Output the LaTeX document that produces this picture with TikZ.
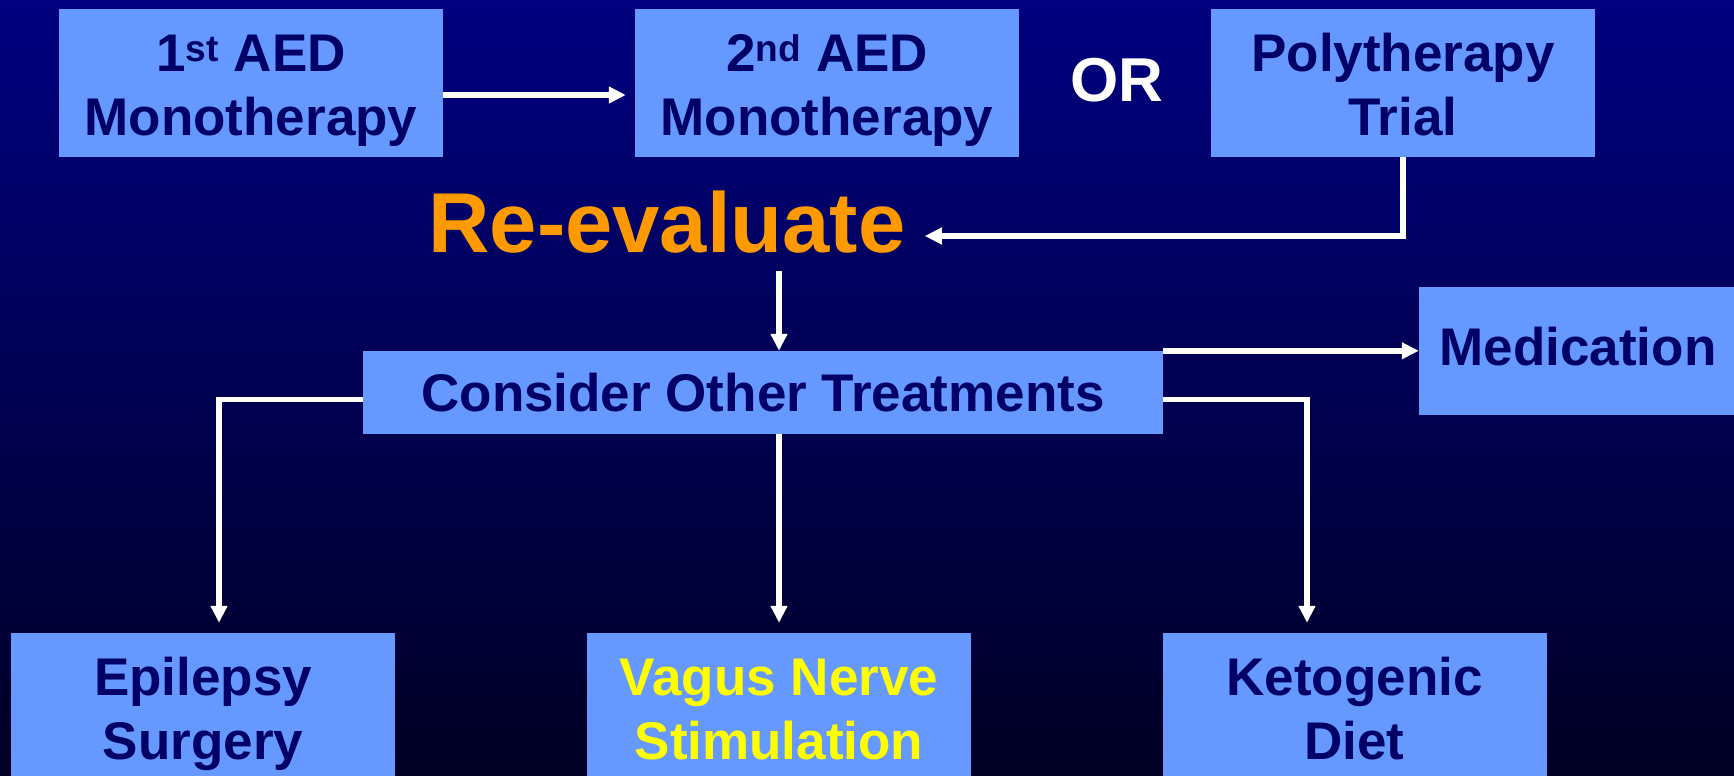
\documentclass[tikz,border=0pt]{standalone}
\usepackage{fontspec}
\setmainfont{Liberation Sans}
\usetikzlibrary{arrows.meta,calc}
\definecolor{boxblue}{HTML}{6699FF}
\definecolor{txtnavy}{HTML}{000066}
\definecolor{bgtop}{RGB}{0,0,128}
\definecolor{bgbot}{RGB}{0,0,36}
\definecolor{reorange}{HTML}{FF9900}
\definecolor{vnsyellow}{HTML}{FFFF00}
\begin{document}
\begin{tikzpicture}[x=1pt,y=-1pt,
  twobox/.style={fill=boxblue,draw=none,inner sep=0pt,minimum width=384pt,minimum height=148pt,
    text height=104pt,text depth=0pt,align=center,text=txtnavy,
    font=\bfseries\fontsize{53}{64}\selectfont},
  onebox/.style={fill=boxblue,draw=none,inner sep=0pt,text=txtnavy,
    font=\bfseries\fontsize{53}{64}\selectfont},
  conn/.style={draw=white,line width=5.5pt,-{Triangle[length=17pt,width=16pt]}},
  plainline/.style={draw=white,line width=5.5pt}]
\clip (0,0) rectangle (1734,776);
\shade[top color=bgtop,bottom color=bgbot] (0,0) rectangle (1734,776);
% nodes
\node[twobox] (b1) at (251,83) {1\textsuperscript{st} AED\\Monotherapy};
\node[twobox] (b2) at (827,83) {2\textsuperscript{nd} AED\\Monotherapy};
\node[twobox] (b3) at (1403,83) {Polytherapy\\Trial};
\node[text=white,inner sep=0pt,font=\bfseries\fontsize{62}{70}\selectfont] (or) at (1117,80) {OR};
\node[text=reorange,inner sep=0pt,text height=61pt,text depth=0pt,font=\bfseries\fontsize{85}{96}\selectfont] (re) at (667,221.5) {Re-evaluate};
\node[onebox,minimum width=800pt,minimum height=83pt,text height=38pt,text depth=0pt] (ct) at (763,392.5) {Consider Other Treatments};
\node[onebox,minimum width=318pt,minimum height=128pt,text height=38pt,text depth=10pt] (med) at (1578,351) {Medication};
\node[twobox] (es) at (203,707) {Epilepsy\\Surgery};
\node[twobox,text=vnsyellow] (vns) at (779,707) {Vagus Nerve\\Stimulation};
\node[twobox] (kd) at (1354.5,707) {Ketogenic\\Diet};
% connectors
\draw[conn] ($(b1.east)+(0,12)$) -- ($(b2.west)+(-9,12)$);
\draw[conn] (b3.south) |- ($(re.east)+(19,14.5)$);
\draw[conn] ($(re.south -| vns.north)+(0,19)$) -- (ct.north -| vns.north);
\draw[conn] (ct.north east) -- (med.west |- ct.north east);
\draw[conn] (ct.south -| vns.north) -- ($(vns.north)+(0,-10)$);
\draw[conn] ($(ct.east)+(0,7)$) -| ($(kd.north)+(-47.5,-10)$);
\draw[conn] ($(ct.west)+(0,7)$) -| ($(es.north)+(16,-10)$);
\end{tikzpicture}
\end{document}
